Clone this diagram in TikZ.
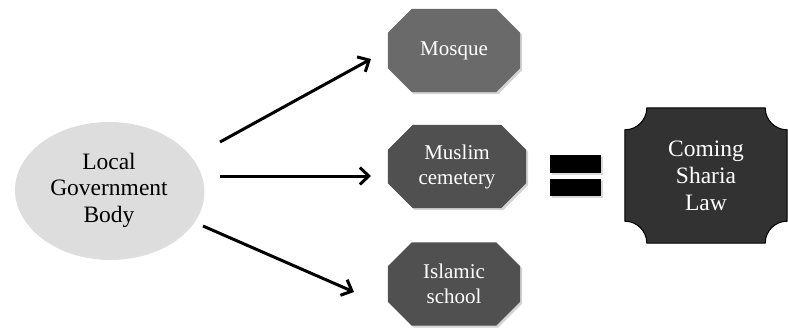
\documentclass[tikz,border=0pt]{standalone}
\usepackage{fontspec}
\setmainfont{Liberation Serif}
\usetikzlibrary{shapes.geometric,arrows.meta,shadows}
\definecolor{ellfill}{RGB}{221,221,221}
\definecolor{oct1}{RGB}{106,106,106}
\definecolor{oct2}{RGB}{80,80,80}
\definecolor{plaq}{RGB}{50,50,50}
\tikzset{
  octnode/.style={minimum width=132pt, minimum height=83pt, inner sep=0pt, text=white, align=center,
    font=\fontsize{21}{25}\selectfont},
  octshape/.style={drop shadow={shadow xshift=2pt, shadow yshift=-2pt, opacity=0.35}},
  arr/.style={line width=3pt, -{Straight Barb[length=9pt,width=17pt,line width=3pt]}},
  eqbar/.style={fill=black, drop shadow={shadow xshift=1.5pt, shadow yshift=-1.5pt, opacity=0.3}},
}
% octagon outline from a node's anchors
\newcommand{\octof}[2]{%
  ([xshift=#2]#1.north west) -- ([xshift=-#2]#1.north east) -- ([yshift=-#2]#1.north east)
  -- ([yshift=#2]#1.south east) -- ([xshift=-#2]#1.south east) -- ([xshift=#2]#1.south west)
  -- ([yshift=#2]#1.south west) -- ([yshift=-#2]#1.north west) -- cycle}
\newcommand{\plaqof}[2]{%
  ([xshift=#2]#1.north west) -- ([xshift=-#2]#1.north east)
  arc[start angle=180, end angle=270, radius=#2]
  -- ([yshift=#2]#1.south east)
  arc[start angle=90, end angle=180, radius=#2]
  -- ([xshift=#2]#1.south west)
  arc[start angle=0, end angle=90, radius=#2]
  -- ([yshift=-#2]#1.north west)
  arc[start angle=-90, end angle=0, radius=#2] -- cycle}
\begin{document}
\begin{tikzpicture}[x=1pt,y=-1pt]
\useasboundingbox (0,0) rectangle (788,327);
% local government body
\node[ellipse, fill=ellfill, minimum width=188pt, minimum height=136pt, inner sep=0pt,
  align=center, font=\fontsize{23.5}{26.5}\selectfont,
  drop shadow={shadow xshift=1.5pt, shadow yshift=-2pt, opacity=0.25}] (gov) at (109,190)
  {Local\\Government\\Body};
% octagon boxes
\node[octnode] (mosque) at (454,50.5) {};
\node[octnode, minimum width=138pt] (cem) at (457,166.5) {};
\node[octnode] (school) at (454,284) {};
\path[octshape, fill=oct1] \octof{mosque}{24pt};
\path[octshape, fill=oct2] \octof{cem}{25pt};
\path[octshape, fill=oct2] \octof{school}{24pt};
\node[octnode] (mosquetext) at (mosque.center) {Mosque};
\node[octnode] (cemtext) at (cem.center) {Muslim\\cemetery};
\node[octnode] (schooltext) at (school.center) {Islamic\\school};
% equals sign
\node[eqbar, minimum width=51pt, minimum height=18pt, inner sep=0pt] (eq1) at (575.5,164) {};
\node[eqbar, minimum width=51pt, minimum height=17pt, inner sep=0pt] (eq2) at (575.5,187.5) {};
% plaque
\node[minimum width=162pt, minimum height=135pt, inner sep=0pt] (law) at (706,175.5) {};
\fill[black!30, opacity=0.6, xshift=2pt, yshift=-2pt] \plaqof{law}{22pt};
\filldraw[fill=plaq, draw=black, line width=1pt] \plaqof{law}{22pt};
\node[text=white, align=center, font=\fontsize{23.5}{27}\selectfont] (lawtext) at (law.center) {Coming\\Sharia\\Law};
% arrows
\coordinate (a1s) at (220,142);
\coordinate (a1e) at (371,59);
\coordinate (a2s) at (220,176);
\coordinate (a2e) at (371,176);
\coordinate (a3s) at (203,226);
\coordinate (a3e) at (354,292);
\draw[arr] (a1s) -- (a1e);
\draw[arr] (a2s) -- (a2e);
\draw[arr] (a3s) -- (a3e);
\end{tikzpicture}
\end{document}
